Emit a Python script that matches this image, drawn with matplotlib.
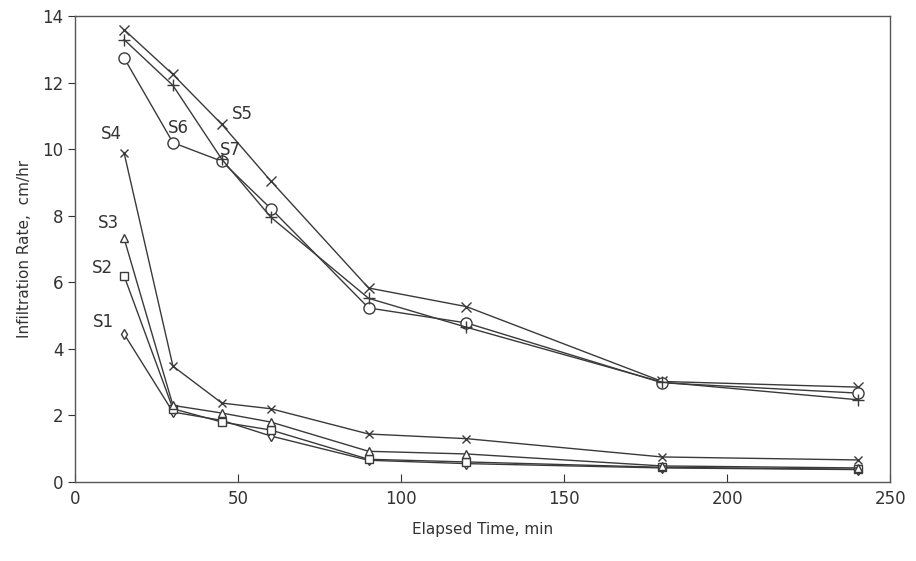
import matplotlib
matplotlib.use("Agg")
import matplotlib.pyplot as plt

times = [15, 30, 45, 60, 90, 120, 180, 240]
s1 = [4.45, 2.1, 1.85, 1.38, 0.65, 0.55, 0.42, 0.37]
s2 = [6.2, 2.2, 1.8, 1.56, 0.68, 0.6, 0.44, 0.38]
s3 = [7.33, 2.3, 2.07, 1.8, 0.92, 0.84, 0.48, 0.42]
s4 = [9.9, 3.48, 2.37, 2.2, 1.44, 1.3, 0.75, 0.66]
s5 = [13.6, 12.25, 10.75, 9.05, 5.83, 5.27, 3.02, 2.85]
s6 = [12.75, 10.2, 9.64, 8.22, 5.23, 4.78, 2.98, 2.67]
s7 = [13.3, 11.92, 9.7, 7.96, 5.52, 4.65, 3.0, 2.47]

names = ["S1", "S2", "S3", "S4", "S5", "S6", "S7"]
series = [s1, s2, s3, s4, s5, s6, s7]
markers = ["d", "s", "^", "x", "x", "o", "+"]
msizes = [5, 6, 6, 6, 7, 8, 8]
# label anchor (x, y in data units) for each series name
label_pos = [(5.5, 4.55), (5.2, 6.17), (7.0, 7.5), (8.0, 10.2), (48.0, 10.78), (28.5, 10.38), (44.5, 9.7)]

plt.rcParams['font.family'] = ['DejaVu Sans']
fig = plt.figure(figsize=(9.16, 5.61), dpi=100)
ax = fig.add_axes([0.082, 0.141, 0.890, 0.830])

col = "#3a3a3a"
for name, ys, m, ms, lp in zip(names, series, markers, msizes, label_pos):
    ax.plot(times, ys, color=col, lw=1.0, marker=m, markersize=ms,
            markerfacecolor="white", markeredgecolor=col, markeredgewidth=1.0)
    ax.text(lp[0], lp[1], name, fontsize=12, color="#333333", ha="left", va="bottom")

ax.set_xlim(0, 250)
ax.set_ylim(0, 14)
ax.set_xticks([0, 50, 100, 150, 200, 250])
ax.set_yticks([0, 2, 4, 6, 8, 10, 12, 14])
ax.tick_params(axis="x", direction="in", length=6, labelsize=12, colors="#333333", pad=6)
ax.tick_params(axis="y", direction="out", length=5, labelsize=12, colors="#333333")
for sp in ax.spines.values():
    sp.set_color("#555555")
    sp.set_linewidth(1.0)
ax.set_xlabel("Elapsed Time, min", fontsize=11, color="#333333", labelpad=10)
ax.set_ylabel("Infiltration Rate,  cm/hr", fontsize=11, color="#333333", labelpad=7)

fig.savefig("out.png", dpi=100, facecolor="white")
